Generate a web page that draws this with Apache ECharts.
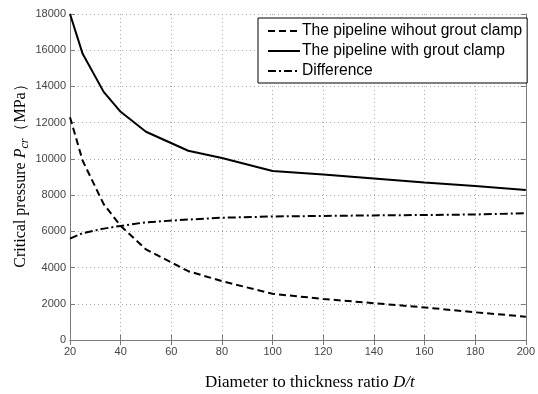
<!DOCTYPE html>
<html><head><meta charset="utf-8">
<script src="https://cdn.jsdelivr.net/npm/echarts@6/dist/echarts.min.js"></script>
<style>html,body{margin:0;padding:0;background:#fff}#c{width:538px;height:394px}</style>
</head><body><div id="c"></div>
<script>
var ratios = [20, 25, 33.3, 40, 50, 66.7, 80, 100, 120, 140, 160, 180, 200];
var withoutClamp = [12300, 9900, 7500, 6300, 5000, 3800, 3250, 2550, 2270, 2030, 1800, 1530, 1290];
var withClamp = [18000, 15800, 13700, 12600, 11500, 10450, 10050, 9330, 9140, 8920, 8700, 8500, 8280];
var difference = [5600, 5900, 6150, 6300, 6500, 6650, 6750, 6820, 6850, 6880, 6900, 6930, 7000];
var names = ['The pipeline wihout grout clamp', 'The pipeline with grout clamp', 'Difference'];

function pairs(v){ return ratios.map(function(x,i){ return [x, v[i]]; }); }
var axisCol = '#7a7a7a';
var labelStyle = {color:'#444', fontFamily:'Liberation Sans, Arial', fontSize:11, formatter:function(v){return String(v);}};
var chart = echarts.init(document.getElementById('c'), null, {renderer:'canvas'});
chart.setOption({
  animation:false,
  backgroundColor:'#fff',
  grid:{left:70, top:14, right:1, bottom:54},
  legend:{
    orient:'vertical', left:258, top:18,
    backgroundColor:'#fff', borderColor:'#000', borderWidth:1,
    padding:[5,5,4,9], itemGap:4, itemWidth:32, itemHeight:14,
    itemStyle:{opacity:0},
    textStyle:{color:'#000', fontFamily:'Liberation Sans, Arial', fontSize:15.6, lineHeight:14, padding:[0,0,0,-3]},
    data:names
  },
  xAxis:[{
    type:'value', min:20, max:200, interval:20,
    axisLine:{onZero:false, lineStyle:{color:axisCol}},
    axisTick:{inside:true, length:5, lineStyle:{color:axisCol}},
    axisLabel:Object.assign({margin:6, alignMaxLabel:'center', alignMinLabel:'center'}, labelStyle),
    splitLine:{show:true, lineStyle:{color:'#aaa', type:[1,3]}}
  },{
    type:'value', min:20, max:200, interval:20, position:'top',
    axisLine:{show:true, lineStyle:{color:axisCol}},
    axisTick:{show:true, inside:true, length:5, lineStyle:{color:axisCol}},
    axisLabel:{show:false}, splitLine:{show:false}
  }],
  yAxis:[{
    type:'value', min:0, max:18000, interval:2000,
    axisLine:{show:true, lineStyle:{color:axisCol}},
    axisTick:{show:true, inside:true, length:5, lineStyle:{color:axisCol}},
    axisLabel:Object.assign({margin:4}, labelStyle),
    splitLine:{show:true, lineStyle:{color:'#aaa', type:[1,3]}}
  },{
    type:'value', min:0, max:18000, interval:2000, position:'right',
    axisLine:{show:true, lineStyle:{color:axisCol}},
    axisTick:{show:true, inside:true, length:5, lineStyle:{color:axisCol}},
    axisLabel:{show:false}, splitLine:{show:false}
  }],
  series:[
    {name:names[0], type:'line', data:pairs(withoutClamp), symbol:'none',
     lineStyle:{color:'#000', width:2, type:[7,4]}, itemStyle:{color:'#000'}},
    {name:names[1], type:'line', data:pairs(withClamp), symbol:'none',
     lineStyle:{color:'#000', width:2, type:'solid'}, itemStyle:{color:'#000'}},
    {name:names[2], type:'line', data:pairs(difference), symbol:'none',
     lineStyle:{color:'#000', width:2, type:[8,3,2,3]}, itemStyle:{color:'#000'}}
  ],
  graphic:[
    {type:'text', x:21, y:172, rotation:Math.PI/2,
     style:{text:'{a|Critical pressure }{i|P}{s|cr}{a|（MPa）}', align:'center', verticalAlign:'middle',
       rich:{a:{fontFamily:'Liberation Serif, Times New Roman', fontSize:16, fill:'#000'},
             i:{fontFamily:'Liberation Serif, Times New Roman', fontStyle:'italic', fontSize:16, fill:'#000'},
             s:{fontFamily:'Liberation Serif, Times New Roman', fontStyle:'italic', fontSize:12, fill:'#000', padding:[7,0,0,0]}}}},
    {type:'text', left:205, top:374,
     style:{text:'{a|Diameter to thickness ratio }{i|D/t}',
       rich:{a:{fontFamily:'Liberation Serif, Times New Roman', fontSize:17, fill:'#000'},
             i:{fontFamily:'Liberation Serif, Times New Roman', fontStyle:'italic', fontSize:17, fill:'#000'}}}}
  ]
});
</script></body></html>
